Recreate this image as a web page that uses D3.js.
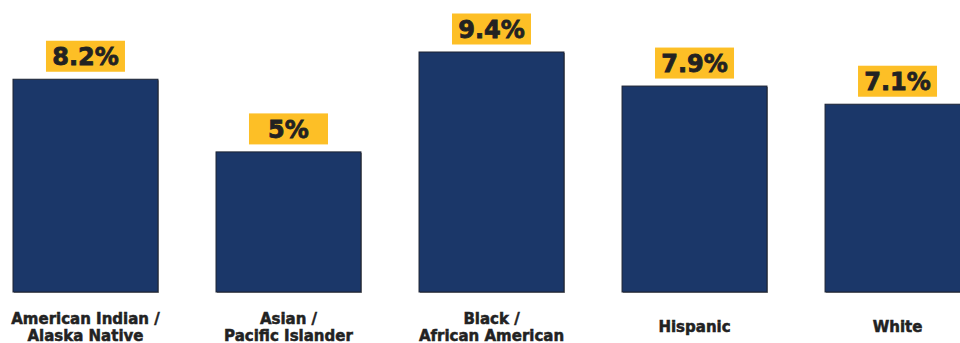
<!DOCTYPE html>
<html>
<head>
<meta charset="utf-8">
<script src="https://cdn.jsdelivr.net/npm/d3@7"></script>
<style>
  body { margin: 0; background: #fff; }
  svg { display: block; font-family: "DejaVu Sans", sans-serif; }
</style>
</head>
<body>
<div id="chart"></div>
<script>
var categories = [
    ["American Indian /", "Alaska Native"],
    ["Asian /", "Pacific Islander"],
    ["Black /", "African American"],
    ["Hispanic"],
    ["White"]
];
var values = [8.2, 5, 9.4, 7.9, 7.1];
var valueLabels = ["8.2%", "5%", "9.4%", "7.9%", "7.1%"];

var width = 960, height = 343;
var baseY = 292;

var svg = d3.select('#chart').append('svg')
    .attr('width', width).attr('height', height);

var xs = d3.scaleBand()
    .domain(d3.range(values.length))
    .range([13, 970])
    .paddingInner(0.286)
    .paddingOuter(0);

var ys = d3.scaleLinear()
    .domain([-1.17, 9.4])
    .range([baseY, 52]);

var bars = svg.selectAll('g.bar')
    .data(values)
    .enter().append('g').attr('class', 'bar');

// soft grey shadow on right/bottom
bars.append('rect')
    .attr('x', function(d, i) { return xs(i) + 1; })
    .attr('y', function(d) { return ys(d) + 1; })
    .attr('width', xs.bandwidth())
    .attr('height', function(d) { return baseY - ys(d); })
    .attr('fill', '#8a8a8a');

bars.append('rect')
    .attr('x', function(d, i) { return xs(i); })
    .attr('y', function(d) { return ys(d); })
    .attr('width', xs.bandwidth())
    .attr('height', function(d) { return baseY - ys(d); })
    .attr('fill', '#1b3769')
    .attr('stroke', '#1c2333')
    .attr('stroke-width', 1);

var boxW = 79, boxH = 31;
bars.append('rect')
    .attr('x', function(d, i) { return xs(i) + xs.bandwidth() / 2 - boxW / 2; })
    .attr('y', function(d) { return ys(d) - 7.5 - boxH; })
    .attr('width', boxW)
    .attr('height', boxH)
    .attr('fill', '#fdbf26');

bars.append('text')
    .attr('x', function(d, i) { return xs(i) + xs.bandwidth() / 2; })
    .attr('y', function(d) { return ys(d) - 7.5 - boxH / 2 + 9; })
    .attr('text-anchor', 'middle')
    .attr('font-size', 24)
    .attr('font-weight', 'bold')
    .attr('fill', '#222')
    .attr('stroke', '#222')
    .attr('stroke-width', 0.8)
    .text(function(d, i) { return valueLabels[i]; });

// category labels, one text per line
var cats = svg.selectAll('g.cat')
    .data(categories)
    .enter().append('g')
    .attr('class', 'cat')
    .attr('transform', function(d, i) {
        return 'translate(' + (xs(i) + xs.bandwidth() / 2) + ',' + (d.length > 1 ? 324 : 332) + ')';
    });

cats.selectAll('text')
    .data(function(d) { return d; })
    .enter().append('text')
    .attr('text-anchor', 'middle')
    .attr('y', function(d, j) { return j * 17; })
    .attr('font-size', 15)
    .attr('font-weight', 'bold')
    .attr('fill', '#222')
    .attr('stroke', '#222')
    .attr('stroke-width', 0.5)
    .text(function(d) { return d; });
</script>
</body>
</html>
